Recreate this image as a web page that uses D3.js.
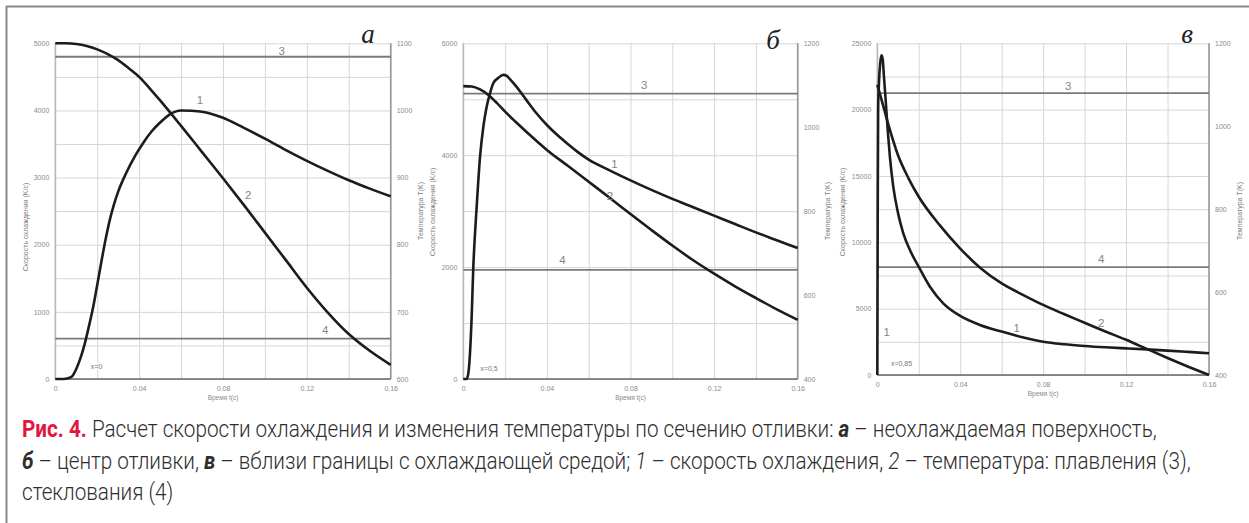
<!DOCTYPE html>
<html><head><meta charset="utf-8">
<script src="https://cdn.jsdelivr.net/npm/d3@7"></script>
<style>
html,body{margin:0;padding:0;background:#fff;}
svg{display:block;}
</style></head>
<body>
<svg id="chart" width="1249" height="523"></svg>
<script>
// ---------- DATA ----------
const xTickLabels = ["0", "0.04", "0.08", "0.12", "0.16"];
const xTicks = [0, 0.04, 0.08, 0.12, 0.16];

// Panel а (x = 0)
const timeRateA = [0, 0.004, 0.006, 0.008, 0.010, 0.012, 0.014, 0.016, 0.018, 0.020, 0.022, 0.024, 0.026, 0.028, 0.030, 0.034, 0.038, 0.042, 0.046, 0.050, 0.055, 0.060, 0.065, 0.070, 0.075, 0.080, 0.090, 0.100, 0.110, 0.120, 0.130, 0.140, 0.150, 0.160];
const rateA = [0, 0, 10, 40, 150, 310, 520, 780, 1060, 1400, 1750, 2080, 2370, 2600, 2790, 3080, 3320, 3520, 3690, 3820, 3950, 4000, 3995, 3980, 3945, 3890, 3740, 3580, 3410, 3250, 3100, 2960, 2835, 2720];
const timeTempA = [0, 0.005, 0.010, 0.015, 0.020, 0.025, 0.030, 0.035, 0.040, 0.045, 0.050, 0.060, 0.070, 0.080, 0.090, 0.100, 0.110, 0.120, 0.130, 0.140, 0.150, 0.160];
const tempA = [1100, 1100, 1099, 1096, 1091, 1084, 1075, 1063, 1050, 1033, 1015, 977, 938, 899, 859, 818, 777, 736, 699, 667, 642, 621];
const leftTicksA = [0, 1000, 2000, 3000, 4000, 5000];
const rightTicksA = [600, 700, 800, 900, 1000, 1100];

// Panel б (x = 0,5)
const timeRateB = [0, 0.0016, 0.0024, 0.0032, 0.0040, 0.0048, 0.0056, 0.0064, 0.0080, 0.0096, 0.0112, 0.0128, 0.0144, 0.0167, 0.0191, 0.0207, 0.0223, 0.0255, 0.0303, 0.035, 0.040, 0.045, 0.050, 0.055, 0.060, 0.070, 0.080, 0.090, 0.100, 0.110, 0.120, 0.130, 0.140, 0.150, 0.160];
const rateB = [0, 0, 100, 460, 1110, 2010, 2600, 3080, 3970, 4510, 4870, 5110, 5290, 5380, 5435, 5420, 5360, 5220, 4980, 4750, 4540, 4360, 4200, 4050, 3920, 3730, 3550, 3380, 3220, 3070, 2920, 2770, 2620, 2480, 2340];
const timeTempB = [0, 0.004, 0.008, 0.012, 0.016, 0.020, 0.025, 0.030, 0.040, 0.050, 0.060, 0.070, 0.080, 0.090, 0.100, 0.110, 0.120, 0.130, 0.140, 0.150, 0.160];
const tempB = [1098, 1097, 1090, 1077, 1058, 1037, 1013, 990, 946, 908, 870, 832, 793, 755, 718, 683, 651, 621, 593, 566, 541];
const leftTicksB = [0, 2000, 4000, 6000];
const rightTicksB = [400, 600, 800, 1000, 1200];

// Panel в (x = 0,85)
const timeRateC = [0, 0.0002, 0.0004, 0.0008, 0.0014, 0.0020, 0.0026, 0.0032, 0.0040, 0.0050, 0.0061, 0.0077, 0.0100, 0.0125, 0.0158, 0.0200, 0.0254, 0.0318, 0.0400, 0.0495, 0.0600, 0.0700, 0.0800, 0.0900, 0.1000, 0.1100, 0.1200, 0.1300, 0.1400, 0.1500, 0.1600];
const rateC = [0, 12000, 20000, 22000, 23500, 24100, 23800, 22500, 20800, 18500, 16400, 14200, 12200, 10700, 9400, 8150, 6650, 5400, 4450, 3770, 3270, 2850, 2510, 2320, 2190, 2090, 2010, 1930, 1840, 1740, 1640];
const timeTempC = [0, 0.002, 0.005, 0.010, 0.015, 0.020, 0.030, 0.040, 0.050, 0.060, 0.070, 0.080, 0.090, 0.100, 0.110, 0.120, 0.130, 0.140, 0.150, 0.160];
const tempC = [1100, 1065, 1010, 930, 875, 830, 762, 705, 657, 621, 594, 569, 547, 526, 505, 485, 463, 441, 420, 400];
const leftTicksC = [0, 5000, 10000, 15000, 20000, 25000];
const rightTicksC = [400, 600, 800, 1000, 1200];

// Reference temperatures: melting (3) and glass transition (4)
const meltingT = 1080;
const glassT = 660;

// Annotations: [text, t, left-axis value]
const notesA = [["1", 0.069, 4150], ["2", 0.092, 2740], ["3", 0.108, 4890], ["4", 0.1287, 730], ["x=0", 0.0197, 184]];
const notesB = [["1", 0.0723, 3840], ["2", 0.0702, 3270], ["3", 0.0866, 5250], ["4", 0.0474, 2130], ["x=0,5", 0.0123, 180]];
const notesC = [["1", 0.0672, 3520], ["2", 0.108, 3950], ["3", 0.0921, 21780], ["4", 0.108, 8720], ["1", 0.0045, 3270], ["x=0,85", 0.0117, 880]];

const panelLetters = ["а", "б", "в"];
const captionLine1 = [["Рис. 4. ", "red"], ["Расчет скорости охлаждения и изменения температуры по сечению отливки: ", ""], ["а", "bi"], [" – неохлаждаемая поверхность,", ""]];
const captionLine2 = [["б", "bi"], [" – центр отливки, ", ""], ["в", "bi"], [" – вблизи границы с охлаждающей средой; ", ""], ["1", "i"], [" – скорость охлаждения, ", ""], ["2", "i"], [" – температура: плавления (3),", ""]];
const captionLine3 = [["стеклования (4)", ""]];

// ---------- DRAW ----------
const svg = d3.select("#chart");
svg.append("rect").attr("width", 1249).attr("height", 523).attr("fill", "#fff");
// frame
svg.append("line").attr("x1", 6).attr("x2", 1249).attr("y1", 6.5).attr("y2", 6.5).attr("stroke", "#888").attr("stroke-width", 2);
svg.append("line").attr("x1", 6.5).attr("x2", 6.5).attr("y1", 6).attr("y2", 523).attr("stroke", "#888").attr("stroke-width", 2);

const tickFont = "Liberation Sans, Arial, sans-serif";

function drawPanel(p) {
  const x = d3.scaleLinear().domain([0, 0.16]).range([p.left, p.right]);
  const yL = d3.scaleLinear().domain([0, p.leftMax]).range([p.bottom, p.top]);
  const yR = d3.scaleLinear().domain(p.rightDomain).range([p.bottom, p.top]);
  const g = svg.append("g");
  const h = p.bottom - p.top, w = p.right - p.left;

  // grid
  g.append("g").attr("transform", `translate(0,${p.bottom})`)
    .call(d3.axisBottom(x).tickValues(d3.range(0, 0.1601, 0.02)).tickSize(-h).tickFormat(""))
    .call(s => s.select(".domain").remove())
    .call(s => s.selectAll("line").attr("stroke", "#d6d6d6").attr("stroke-width", 1));
  g.append("g").attr("transform", `translate(${p.left},0)`)
    .call(d3.axisLeft(yL).tickValues(d3.range(0, p.leftMax + 1, p.gridStep)).tickSize(-w).tickFormat(""))
    .call(s => s.select(".domain").remove())
    .call(s => s.selectAll("line").attr("stroke", "#d6d6d6").attr("stroke-width", 1));

  // axes lines
  g.append("line").attr("x1", p.left).attr("x2", p.left).attr("y1", p.top).attr("y2", p.bottom).attr("stroke", "#b8b8b8").attr("stroke-width", 1.5);
  g.append("line").attr("x1", p.right).attr("x2", p.right).attr("y1", p.top).attr("y2", p.bottom).attr("stroke", "#999").attr("stroke-width", 1.6);
  g.append("line").attr("x1", p.left).attr("x2", p.right).attr("y1", p.bottom).attr("y2", p.bottom).attr("stroke", "#666").attr("stroke-width", 1.5);

  // tick labels
  const axL = g.append("g").attr("transform", `translate(${p.left},0)`)
    .call(d3.axisLeft(yL).tickValues(p.leftTicks).tickSize(0).tickPadding(6).tickFormat(d3.format("d")));
  const axR = g.append("g").attr("transform", `translate(${p.right},0)`)
    .call(d3.axisRight(yR).tickValues(p.rightTicks).tickSize(0).tickPadding(6).tickFormat(d3.format("d")));
  const axB = g.append("g").attr("transform", `translate(0,${p.bottom})`)
    .call(d3.axisBottom(x).tickValues(xTicks).tickSize(0).tickPadding(7).tickFormat((d, i) => xTickLabels[i]));
  [axL, axR, axB].forEach(a => {
    a.select(".domain").remove();
    a.selectAll("text").attr("font-family", tickFont).attr("font-size", 7).attr("fill", "#8a8a8a");
  });

  g.append("text").attr("x", (p.left + p.right) / 2).attr("y", p.bottom + 21)
    .attr("text-anchor", "middle").attr("font-family", tickFont).attr("font-size", 6.5).attr("fill", "#8a8a8a").text("Время t(c)");

  // reference lines 3 & 4
  [meltingT, glassT].forEach(T => {
    g.append("line").attr("x1", p.left).attr("x2", p.right).attr("y1", yR(T)).attr("y2", yR(T))
      .attr("stroke", "#7a7a7a").attr("stroke-width", 1.8);
  });

  // curves
  const lineL = d3.line().x(d => x(d[0])).y(d => yL(d[1])).curve(d3.curveMonotoneX);
  const lineR = d3.line().x(d => x(d[0])).y(d => yR(d[1])).curve(d3.curveMonotoneX);
  g.append("path").datum(d3.zip(p.timeTemp, p.temp)).attr("d", lineR)
    .attr("fill", "none").attr("stroke", "#1c1c1c").attr("stroke-width", 2.6).attr("stroke-linejoin", "round");
  g.append("path").datum(d3.zip(p.timeRate, p.rate)).attr("d", lineL)
    .attr("fill", "none").attr("stroke", "#1c1c1c").attr("stroke-width", 2.6).attr("stroke-linejoin", "round");

  // annotations
  p.notes.forEach(n => {
    const small = n[0].startsWith("x");
    g.append("text").attr("x", x(n[1])).attr("y", yL(n[2])).attr("dy", "0.35em")
      .attr("text-anchor", "middle").attr("font-family", tickFont)
      .attr("font-size", small ? 7 : 11.5).attr("fill", small ? "#777" : "#858585").text(n[0]);
  });

  // panel letter
  g.append("text").attr("x", p.letterX).attr("y", p.letterY).attr("text-anchor", "middle")
    .attr("font-family", "Liberation Serif, Times New Roman, serif").attr("font-style", "italic")
    .attr("font-size", 27).attr("fill", "#222").text(p.letter);
}

drawPanel({left: 55.3, right: 390.7, top: 43.3, bottom: 379, leftMax: 5000, gridStep: 500, rightDomain: [600, 1100],
  leftTicks: leftTicksA, rightTicks: rightTicksA, timeRate: timeRateA, rate: rateA, timeTemp: timeTempA, temp: tempA,
  notes: notesA, letter: panelLetters[0], letterX: 368, letterY: 43});
drawPanel({left: 463.3, right: 797.7, top: 43.3, bottom: 379, leftMax: 6000, gridStep: 1000, rightDomain: [400, 1200],
  leftTicks: leftTicksB, rightTicks: rightTicksB, timeRate: timeRateB, rate: rateB, timeTemp: timeTempB, temp: tempB,
  notes: notesB, letter: panelLetters[1], letterX: 773, letterY: 49});
drawPanel({left: 877.3, right: 1209, top: 43.3, bottom: 375, leftMax: 25000, gridStep: 2500, rightDomain: [400, 1200],
  leftTicks: leftTicksC, rightTicks: rightTicksC, timeRate: timeRateC, rate: rateC, timeTemp: timeTempC, temp: tempC,
  notes: notesC, letter: panelLetters[2], letterX: 1187, letterY: 43});

// rotated axis titles
function vLabel(txt, xPos, yPos) {
  svg.append("text").attr("transform", `translate(${xPos},${yPos}) rotate(-90)`).attr("text-anchor", "middle")
    .attr("font-family", tickFont).attr("font-size", 7).attr("fill", "#7a7a7a").text(txt);
}
vLabel("Скорость охлаждения (K/c)", 28, 227);
vLabel("Температура T(K)", 423, 211);
vLabel("Скорость охлаждения (K/c)", 435, 212);
vLabel("Температура T(K)", 830, 211);
vLabel("Скорость охлаждения (K/c)", 845, 212);
vLabel("Температура T(K)", 1242, 211);

// caption: one uniform horizontal squeeze so that line 2 spans the measured width
const capFont = "Roboto, 'Liberation Sans', sans-serif";
function capLine(parts) {
  const t = svg.append("text").attr("x", 0).attr("y", 0).attr("font-family", capFont)
    .attr("font-size", 23).attr("font-weight", 300).attr("fill", "#2e2e2e");
  parts.forEach(pt => {
    const s = t.append("tspan").text(pt[0]);
    if (pt[1] === "red") s.attr("fill", "#e4163d").attr("font-weight", "bold");
    if (pt[1] === "bi") s.attr("font-weight", "bold").attr("font-style", "italic");
    if (pt[1] === "i") s.attr("font-style", "italic");
  });
  return t;
}
const cap1 = capLine(captionLine1), cap2 = capLine(captionLine2), cap3 = capLine(captionLine3);
const capStart = 22, capEnd2 = 1191;
const sx = (capEnd2 - capStart) / cap2.node().getComputedTextLength();
[[cap1, 437], [cap2, 469], [cap3, 500]].forEach(([t, yy]) => t.attr("transform", `translate(${capStart},${yy}) scale(${sx},1)`));
</script>
</body></html>
